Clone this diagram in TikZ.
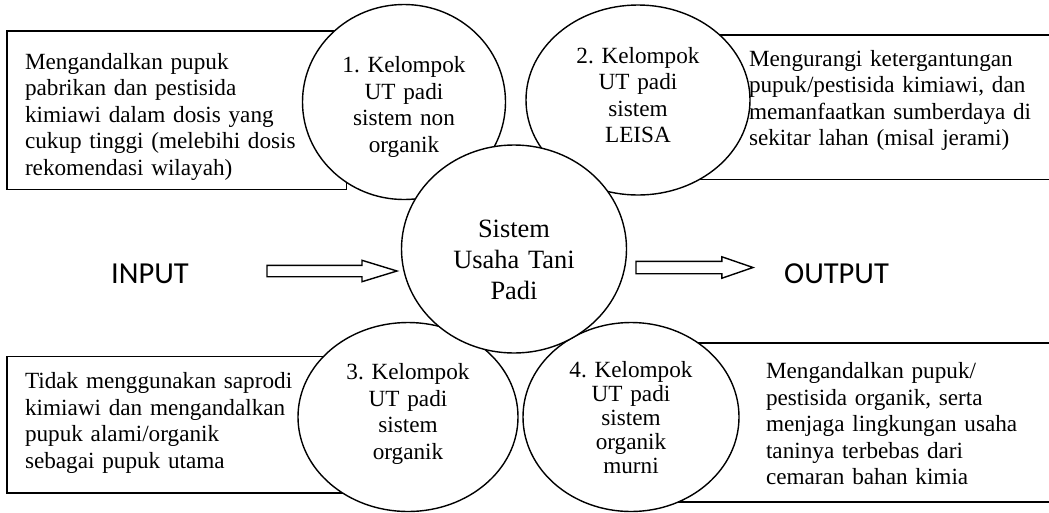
\documentclass[tikz,border=0pt]{standalone}
\usepackage{fontspec}
\setmainfont{Liberation Serif}
\newfontfamily\labelfont{Carlito}
\usetikzlibrary{shapes.geometric,shapes.arrows}
\frenchspacing

\tikzset{
  textbox/.style={draw, rectangle, anchor=north west, outer sep=0pt,
    inner ysep=0pt, align=left, font=\fontsize{23.2}{26.6}\selectfont},
  group/.style={draw, ellipse, fill=white, outer sep=0pt, inner sep=0pt,
    align=center, text width=135pt, font=\fontsize{23.2}{26.5}\selectfont},
  fatarrow/.style={draw, single arrow, anchor=tail, single arrow head extend=5pt,
    inner xsep=0pt, inner ysep=5pt, outer sep=0pt},
  label/.style={anchor=base, font=\labelfont\fontsize{30.5}{36}\selectfont}
}

\begin{document}
\begin{tikzpicture}[x=1pt, y=-1pt, line width=1.4pt]
  \useasboundingbox (0,0) rectangle (1049,512);

  \node[textbox, inner xsep=18pt, text width=303.5pt, text height=38pt, text depth=120.5pt] (nonorgbox) at (7,31)
    {Mengandalkan pupuk\\ pabrikan dan pestisida\\ kimiawi dalam dosis yang\\ cukup tinggi (melebihi dosis\\ rekomendasi wilayah)};
  \node[textbox, inner xsep=79pt, text width=300pt, text height=31pt, text depth=113.5pt] (leisabox) at (670,35)
    {Mengurangi ketergantungan\\ pupuk/pestisida kimiawi, dan\\ memanfaatkan sumberdaya di\\ sekitar lahan (misal jerami)};
  \node[textbox, inner xsep=18pt, text width=317pt, text height=32pt, text depth=104.5pt] (orgbox) at (7,356.5)
    {Tidak menggunakan saprodi\\ kimiawi dan mengandalkan\\ pupuk alami/organik\\ sebagai pupuk utama};
  \node[textbox, inner xsep=96pt, text width=300pt, text height=35.5pt, text depth=123.5pt] (murnibox) at (670,343)
    {Mengandalkan pupuk/\\ pestisida organik, serta\\ menjaga lingkungan usaha\\ taninya terbebas dari\\ cemaran bahan kimia};

  \node[group, minimum width=203pt, minimum height=195pt, text height=35pt, text depth=94pt] (nonorg) at (404,102)
    {1. Kelompok\\ UT padi\\ sistem non\\ organik};
  \node[group, minimum width=224pt, minimum height=190pt, text height=25pt, text depth=99pt] (leisa) at (638,100)
    {2. Kelompok\\ UT padi\\ sistem\\ LEISA};
  \node[group, minimum width=220pt, minimum height=189pt, text height=25pt, text depth=100pt] (org) at (408,417)
    {3. Kelompok\\ UT padi\\ sistem\\ organik};
  \node[group, minimum width=216pt, minimum height=189pt, text height=20pt, text depth=99pt,
    font=\fontsize{23.2}{24}\selectfont] (murni) at (631,417)
    {4. Kelompok\\ UT padi\\ sistem\\ organik\\ murni};

  \node[group, minimum width=225pt, minimum height=208pt, text width=140pt, text height=40pt, text depth=64pt,
    font=\fontsize{26.4}{31}\selectfont] (system) at (514,249)
    {Sistem\\ Usaha Tani\\ Padi};

  \node[label] (input) at (150,283) {INPUT};
  \node[label] (output) at (836.5,283) {OUTPUT};

  \node[fatarrow, minimum height=130pt, single arrow tip angle=34] (inarrow) at (267,271) {};
  \node[fatarrow, minimum height=117pt, inner ysep=5.5pt, single arrow head extend=4.5pt,
    single arrow tip angle=38] (outarrow) at (636,267.5) {};
\end{tikzpicture}
\end{document}
